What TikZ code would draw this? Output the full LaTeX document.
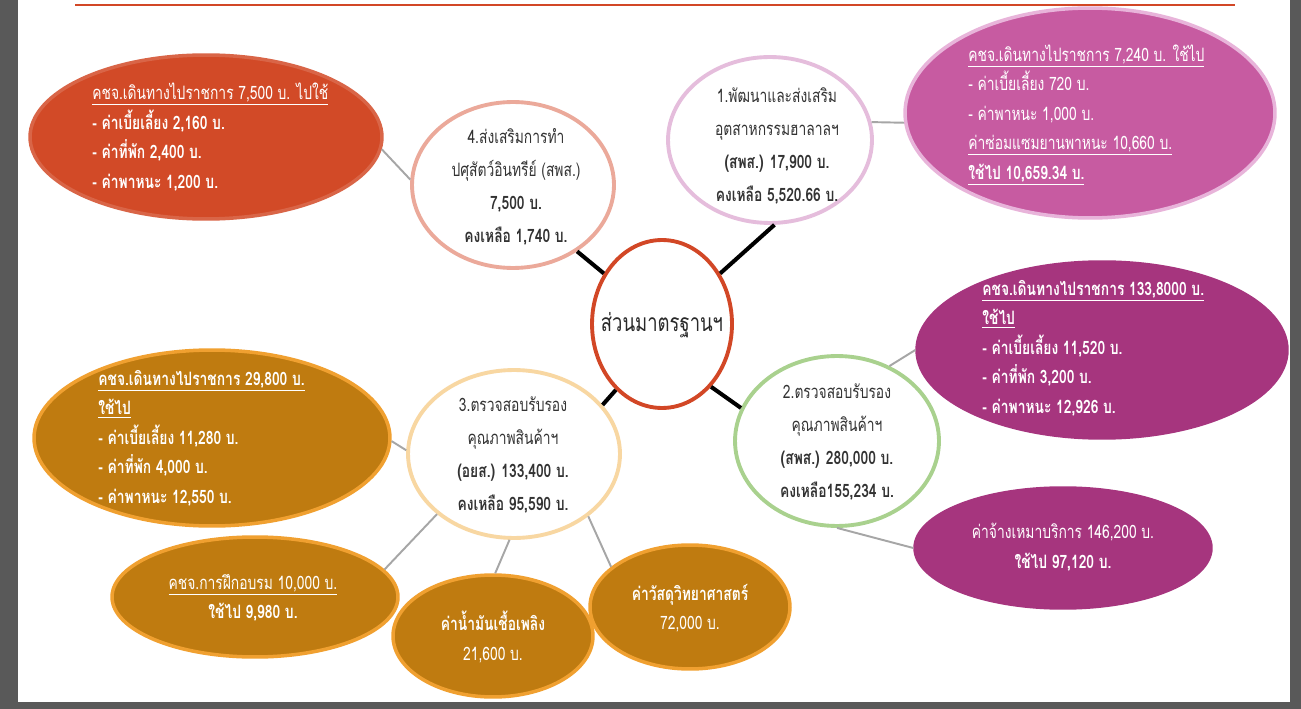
\documentclass[tikz,border=0pt]{standalone}
\usepackage{fontspec}
\setmainfont[Script=Thai, FakeStretch=0.75]{Loma}
\usepackage{tikz}
\usetikzlibrary{shapes.geometric}

\definecolor{hubred}{HTML}{D24726}
\definecolor{txtgray}{HTML}{333333}
\definecolor{wiregray}{HTML}{A6A6A6}
\definecolor{framegray}{HTML}{595959}
\definecolor{rimsalmon}{HTML}{EBA99A}
\definecolor{rimpink}{HTML}{E5BDDC}
\definecolor{rimgreen}{HTML}{A9D18E}
\definecolor{rimorange}{HTML}{F8D7A2}
\definecolor{leafred}{HTML}{D24A27}
\definecolor{leafpink}{HTML}{C75BA1}
\definecolor{edgepink}{HTML}{E8B4DA}
\definecolor{leafplum}{HTML}{A6357E}
\definecolor{leafgold}{HTML}{BF7B10}
\definecolor{edgegold}{HTML}{F0A030}

\begin{document}
\begin{tikzpicture}[x=0.02cm, y=-0.02cm]
\tikzstyle{topic} = [ellipse, fill=white, line width=2.2pt, inner sep=0pt]
\tikzstyle{leaf} = [ellipse, inner sep=0pt, line width=2pt]
\tikzstyle{txt} = [align=center, text=txtgray, inner sep=0pt, font=\fontsize{10.5}{18.8}\selectfont]
\tikzstyle{ltxt} = [align=left, text=white, inner sep=0pt, anchor=west, font=\fontsize{10.5}{16.8}\selectfont]
\tikzstyle{ctxt} = [align=center, text=white, inner sep=0pt, font=\fontsize{10.5}{16.8}\selectfont]
\tikzstyle{wire} = [line width=2.3pt, black]
\tikzstyle{link} = [line width=1.1pt, wiregray]

\useasboundingbox (0,0) rectangle (1301,709);
\fill[white] (0,0) rectangle (1301,709);
\fill[framegray] (0,0) rectangle (18,709);
\fill[framegray] (1290,0) rectangle (1301,709);
\fill[framegray] (0,702) rectangle (1301,709);
\draw[hubred, line width=1.5pt] (75,5) -- (1235,5);

% leaves
\node[leaf, fill=leafred, draw=leafred!85!white, minimum width=7.04cm, minimum height=3.28cm] (e4) at (206,137) {};
\node[leaf, fill=leafpink, draw=edgepink, minimum width=7.4cm, minimum height=4.2cm] (e1) at (1090,113) {};
\node[leaf, fill=leafplum, draw=leafplum, minimum width=7.4cm, minimum height=3.52cm] (eR) at (1102,350) {};
\node[leaf, fill=leafplum, draw=leafplum, minimum width=5.92cm, minimum height=2.4cm] (eB) at (1063,548) {};
\node[leaf, fill=leafgold, draw=edgegold, minimum width=7.12cm, minimum height=3.52cm] (eL) at (212,438) {};
\node[leaf, fill=leafgold, draw=edgegold, minimum width=5.72cm, minimum height=2.4cm] (eT) at (255,597) {};
\node[leaf, fill=leafgold, draw=edgegold, minimum width=4cm, minimum height=2.44cm] (eF) at (493,636) {};
\node[leaf, fill=leafgold, draw=edgegold, minimum width=4cm, minimum height=2.48cm] (eLab) at (690,607) {};

% topics
\node[topic, draw=hubred, minimum width=2.8cm, minimum height=3.36cm] (hub) at (662,324) {};
\node[topic, draw=rimsalmon, minimum width=4.04cm, minimum height=3.32cm] (c4) at (513,185) {};
\node[topic, draw=rimpink, minimum width=4.08cm, minimum height=3.32cm] (c1) at (770,140) {};
\node[topic, draw=rimgreen, minimum width=4.08cm, minimum height=3.4cm] (c2) at (837,441) {};
\node[topic, draw=rimorange, minimum width=4.24cm, minimum height=3.36cm] (c3) at (514,454) {};

\draw[wire] (hub.139) -- (c4.-46);
\draw[wire] (hub.41) -- (c1.-87);
\draw[wire] (hub.-52) -- (c2.161);
\draw[wire] (hub.-125) -- (c3.29);

\draw[link] (e4.-4) -- (c4.177);
\draw[link] (c1.10) -- (e1.183);
\draw[link] (c2.55) -- (eR.180);
\draw[link] (c2.-90) -- (eB.180);
\draw[link] (eL.-1) -- (c3.178);
\draw[link] (c3.-142.5) -- (eT.12);
\draw[link] (c3.-93) -- (eF.88);
\draw[link] (c3.-40) -- (eLab.153);

% texts
\node[align=center, text=txtgray!80!black, inner sep=0pt, font=\fontsize{14}{16}\selectfont] (hubt) at (662,325) {ส่วนมาตรฐานฯ};
\node[txt] (c4t) at (516,187) {4.ส่งเสริมการทำ\\ปศุสัตว์อินทรีย์ (สพส.)\\\textbf{7,500 บ.}\\\textbf{คงเหลือ 1,740 บ.}};
\node[txt] (c1t) at (777,146) {1.พัฒนาและส่งเสริม\\อุตสาหกรรมฮาลาลฯ\\\textbf{(สพส.) 17,900 บ.}\\\textbf{คงเหลือ 5,520.66 บ.}};
\node[txt] (c2t) at (837,442) {2.ตรวจสอบรับรอง\\คุณภาพสินค้าฯ\\\textbf{(สพส.) 280,000 บ.}\\\textbf{คงเหลือ155,234 บ.}};
\node[txt] (c3t) at (513,455) {3.ตรวจสอบรับรอง\\คุณภาพสินค้าฯ\\\textbf{(อยส.) 133,400 บ.}\\\textbf{คงเหลือ 95,590 บ.}};

\node[ltxt] (e4t) at (92,137) {\underline{คชจ.เดินทางไปราชการ 7,500 บ. ไปใช้}\\\textbf{- ค่าเบี้ยเลี้ยง 2,160 บ.}\\\textbf{- ค่าที่พัก 2,400 บ.}\\\textbf{- ค่าพาหนะ 1,200 บ.}};
\node[ltxt] (e1t) at (968,115) {\underline{คชจ.เดินทางไปราชการ 7,240 บ. ใช้ไป}\\- ค่าเบี้ยเลี้ยง 720 บ.\\- ค่าพาหนะ 1,000 บ.\\\underline{ค่าซ่อมแซมยานพาหนะ 10,660 บ.}\\\textbf{\underline{ใช้ไป 10,659.34 บ.}}};
\node[ltxt] (eRt) at (982,348) {\textbf{\underline{คชจ.เดินทางไปราชการ 133,8000 บ.}}\\\textbf{\underline{ใช้ไป}}\\\textbf{- ค่าเบี้ยเลี้ยง 11,520 บ.}\\\textbf{- ค่าที่พัก 3,200 บ.}\\\textbf{- ค่าพาหนะ 12,926 บ.}};
\node[ltxt] (eLt) at (98,438) {\textbf{\underline{คชจ.เดินทางไปราชการ 29,800 บ.}}\\\textbf{\underline{ใช้ไป}}\\\textbf{- ค่าเบี้ยเลี้ยง 11,280 บ.}\\\textbf{- ค่าที่พัก 4,000 บ.}\\\textbf{- ค่าพาหนะ 12,550 บ.}};
\node[ctxt] (eBt) at (1063,547) {ค่าจ้างเหมาบริการ 146,200 บ.\\\textbf{ใช้ไป 97,120 บ.}};
\node[ctxt] (eTt) at (253,598) {\underline{คชจ.การฝึกอบรม 10,000 บ.}\\\textbf{ใช้ไป 9,980 บ.}};
\node[ctxt] (eFt) at (493,637) {\textbf{ค่าน้ำมันเชื้อเพลิง}\\21,600 บ.};
\node[ctxt] (eLabt) at (690,608) {\textbf{ค่าวัสดุวิทยาศาสตร์}\\72,000 บ.};

\end{tikzpicture}
\end{document}
